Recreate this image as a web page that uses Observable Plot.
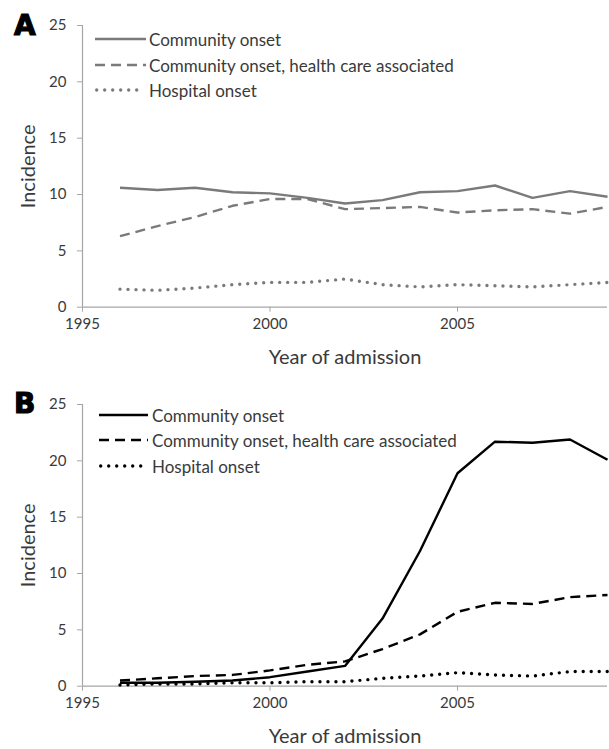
<!DOCTYPE html>
<html>
<head>
<meta charset="utf-8">
<script src="https://cdn.jsdelivr.net/npm/d3@7"></script>
<script src="https://cdn.jsdelivr.net/npm/@observablehq/plot@0.6"></script>
<style>
  html, body { margin: 0; padding: 0; background: #fff; }
  body { width: 609px; height: 749px; position: relative; overflow: hidden; font-family: Lato, "Open Sans", sans-serif; color: #3a3a3a; }
  .panel { position: absolute; left: 0; width: 609px; }
  .letter { position: absolute; font-family: "DejaVu Sans", sans-serif; font-weight: bold; font-size: 28px; color: #000; -webkit-text-stroke: 1.2px #000; line-height: 1; }
  .legend { position: absolute; font-size: 17px; color: #3a3a3a; }
  .legend .row { position: absolute; white-space: nowrap; display: flex; align-items: center; }
  .legend svg { display: block; }
</style>
</head>
<body>
<div id="A" class="panel" style="top:0px"></div>
<div id="B" class="panel" style="top:379px"></div>
<div class="letter" style="left:14px; top:12px">A</div>
<div class="letter" style="left:14px; top:390px">B</div>
<div id="legA" class="legend"></div>
<div id="legB" class="legend"></div>
<script>
// ---- data ----
const years = [1996, 1997, 1998, 1999, 2000, 2001, 2002, 2003, 2004, 2005, 2006, 2007, 2008, 2009];
const seriesNames = ["Community onset", "Community onset, health care associated", "Hospital onset"];
const xTicks = [1995, 2000, 2005];
const yTicks = [0, 5, 10, 15, 20, 25];

// Panel A
const aCommunity = [10.6, 10.4, 10.6, 10.2, 10.1, 9.7, 9.2, 9.5, 10.2, 10.3, 10.8, 9.7, 10.3, 9.8];
const aCommunityHCA = [6.3, 7.2, 8.0, 9.0, 9.6, 9.6, 8.7, 8.8, 8.9, 8.4, 8.6, 8.7, 8.3, 8.9];
const aHospital = [1.6, 1.5, 1.7, 2.0, 2.2, 2.2, 2.5, 2.0, 1.8, 2.0, 1.9, 1.8, 2.0, 2.2];

// Panel B
const bCommunity = [0.3, 0.3, 0.4, 0.5, 0.8, 1.3, 1.8, 6.0, 12.0, 18.9, 21.7, 21.6, 21.9, 20.1];
const bCommunityHCA = [0.5, 0.7, 0.9, 1.0, 1.4, 1.9, 2.2, 3.3, 4.6, 6.6, 7.4, 7.3, 7.9, 8.1];
const bHospital = [0.1, 0.2, 0.2, 0.3, 0.3, 0.4, 0.4, 0.7, 0.9, 1.2, 1.0, 0.9, 1.3, 1.3];

const styles = [
  {dash: null, width: 2.4},
  {dash: "10 6", width: 2.4},
  {dash: "0 8", width: 3.4, cap: "round"}
];

function makePanel(seriesValues, color, textColor) {
  const rows = [];
  seriesValues.forEach((vals, s) => vals.forEach((v, i) => rows.push({year: years[i], value: v, series: seriesNames[s]})));
  const lineMarks = seriesNames.map((name, s) => Plot.line(rows.filter(d => d.series === name), {
    x: "year", y: "value", stroke: color, strokeWidth: styles[s].width,
    strokeDasharray: styles[s].dash, strokeLinecap: styles[s].cap || "butt", strokeLinejoin: "round"
  }));
  return Plot.plot({
    width: 609, height: 376,
    marginLeft: 82, marginRight: 2, marginTop: 25, marginBottom: 69.3,
    style: {fontFamily: "Lato, 'Open Sans', sans-serif", fontSize: "15px", color: textColor, background: "white"},
    x: {domain: [1995, 2009], label: null},
    y: {domain: [0, 25], label: null},
    marks: [
      Plot.axisY(yTicks, {tickSize: 5, tickPadding: 11, stroke: "#a6a6a6", fill: textColor, label: null, fontSize: 15}),
      Plot.axisX(xTicks, {tickSize: 5, tickPadding: 6, stroke: "#a6a6a6", fill: textColor, label: null, tickFormat: d => String(d), fontSize: 15}),
      Plot.ruleX([1995], {stroke: "#a6a6a6", strokeWidth: 1.2}),
      Plot.ruleY([0], {stroke: "#a6a6a6", strokeWidth: 1.2}),
      ...lineMarks,
      Plot.text(["Year of admission"], {frameAnchor: "bottom", dy: 50, lineAnchor: "middle", fontSize: 20, fill: textColor}),
      Plot.text(["Incidence"], {frameAnchor: "left", dx: -54, rotate: -90, lineAnchor: "middle", textAnchor: "middle", fontSize: 20, fill: textColor})
    ]
  });
}

document.getElementById("A").appendChild(makePanel([aCommunity, aCommunityHCA, aHospital], "#7a7a7a", "#3a3a3a"));
document.getElementById("B").appendChild(makePanel([bCommunity, bCommunityHCA, bHospital], "#000000", "#3a3a3a"));

function makeLegend(id, color, lineX, textX, rowYs, lineLens) {
  const el = document.getElementById(id);
  seriesNames.forEach((name, s) => {
    const row = document.createElement("div");
    row.className = "row";
    row.style.left = lineX + "px";
    row.style.top = (rowYs[s] - 12) + "px";
    row.style.height = "24px";
    const w = textX - lineX - 2;
    const st = styles[s];
    row.innerHTML = `<svg width="${w}" height="24"><line x1="${st.cap ? 1.7 : 0}" y1="12" x2="${lineLens[s]}" y2="12" stroke="${color}" stroke-width="${st.width}" ${st.dash ? `stroke-dasharray="${st.dash}"` : ""} stroke-linecap="${st.cap || "butt"}"/></svg><span style="margin-left:2px">${name}</span>`;
    el.appendChild(row);
  });
}
makeLegend("legA", "#7a7a7a", 95, 149, [39, 65, 90], [51, 51, 43]);
makeLegend("legB", "#000000", 99, 152, [415, 440, 466], [49, 49, 42]);
</script>
</body>
</html>
